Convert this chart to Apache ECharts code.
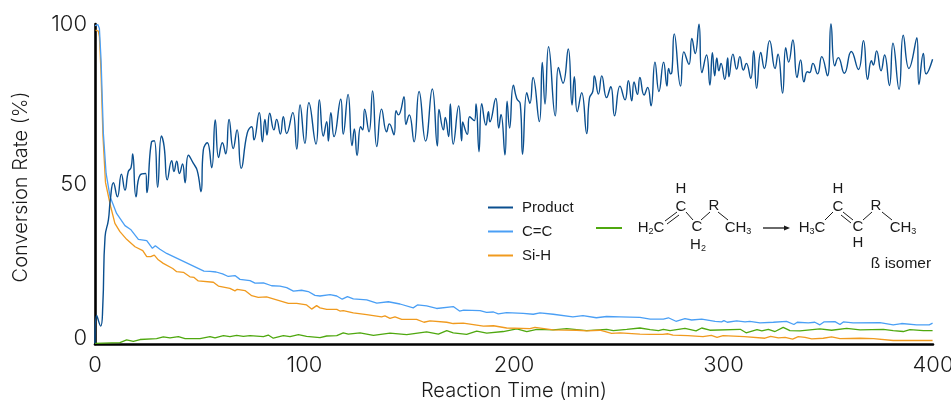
<!DOCTYPE html>
<html><head><meta charset="utf-8">
<style>html,body{margin:0;padding:0;background:#fff}#c{width:951px;height:401px}</style>
<script src="https://cdn.jsdelivr.net/npm/echarts@6/dist/echarts.min.js"></script>
</head><body><div id="c"></div>
<script>
const xTicks = [0,100,200,300,400];
const yTicks = [0,50,100];
const product = [[0,0.2],[0.8,8.9],[2.7,5.6],[3.7,11.7],[4.8,33.5],[6.4,38.8],[7.3,45],[8.8,50.4],[10.7,46],[12.6,53.1],[14.3,48.1],[15.9,53.9],[17.2,55.1],[18,59.4],[19.6,46],[21.5,52.8],[24.2,53.3],[24.8,47.3],[27,63.2],[28.3,63.5],[29.9,49],[31.7,65],[33,61.7],[34.5,51.3],[36.6,57.3],[37.7,53.9],[39,57.1],[40.3,53.3],[41.8,56.3],[43,50.4],[44.6,59],[46.9,56.5],[48.8,54.2],[50.6,47.6],[51.7,60.6],[53.6,62.9],[55.7,55.1],[57.4,70],[59,58.3],[60.8,62.9],[62.4,59.4],[64,70.2],[66,61.1],[67.8,66.9],[69.8,54.9],[72.7,66],[74.8,67.9],[75.9,63.8],[78.4,72.3],[79.9,63.2],[81.1,70.2],[82.1,65.3],[83.4,72.1],[85.4,66.9],[86.7,70.2],[88.5,65.6],[89.9,71],[91.5,65.8],[94.4,72.3],[96.3,60.9],[97.9,74.7],[100.2,62.7],[102.1,75.4],[105.5,62.5],[107.1,76.3],[109,65],[110.6,69.5],[111.4,63.4],[112.6,72.3],[114.1,64.8],[117.3,76.5],[118.5,65.6],[120.8,78],[122.7,62],[123.8,67.2],[125.1,58.9],[126.8,67.9],[127.8,66.9],[128.7,73.4],[130.8,66.3],[132.5,79.1],[134.5,61.7],[136.8,73.4],[139.2,66.3],[140.5,68.8],[142.7,65.4],[143.7,72.9],[144.8,71.6],[147.5,77.3],[148.4,68.6],[150,71.6],[152.3,63.2],[154.7,78.9],[157.8,63.4],[161,79.7],[163.4,61.9],[164.2,73.3],[166.3,66.9],[167.2,70.8],[168.8,64.8],[169.6,75],[171,62.5],[173.6,74.4],[175,63.5],[175.5,69.4],[177.7,65.5],[178.8,71],[181.1,69.8],[181.9,75],[183.3,60.1],[184.6,75.1],[186.6,68.4],[187.8,72.6],[188.5,69.4],[191.3,76.7],[192.7,67.5],[193.8,71.7],[195.7,59.1],[196.7,75.9],[197.9,67.5],[199.7,80.9],[201.3,76.7],[203,75],[204.1,59.3],[206.1,78.5],[207.6,75.2],[209.1,83.3],[212.1,69.5],[213.5,88],[214.8,75],[216.5,92.9],[219.7,71.3],[221.2,86.4],[223.4,81.5],[225.9,92.2],[227.7,74.7],[228.8,83.5],[230.2,72.6],[232.3,78.5],[234.7,65.8],[236,76.8],[237.6,78.9],[238.4,83.8],[240.3,78.1],[241.9,83.8],[244.2,77],[246.2,80.4],[248,71.3],[250.6,80.6],[253,76.3],[254.6,82.3],[256.2,76],[257.3,81.9],[258.9,78],[260.1,83.3],[262.1,77.8],[263.8,80.2],[265.4,74.4],[267.3,88.1],[269.2,78.9],[271.4,88.1],[273,80.6],[273.8,86.1],[274.8,84.4],[275.4,85.1],[276.5,96.9],[279.5,80.6],[281.1,91.3],[283.5,87.4],[284.9,95.5],[286.5,90.8],[288.3,99.9],[289.7,84.8],[291.9,90.3],[293.5,80.9],[294.7,91],[295.8,83.8],[296.8,89.4],[297.8,85.4],[298.8,87.7],[300.6,82.7],[302,89.4],[302.6,83.5],[304.5,90.6],[306.3,85.9],[307.8,89.8],[309.5,85.6],[310.9,87.7],[313,83],[314.4,91.6],[315.8,79.9],[317.8,91.1],[319.5,86.1],[322,94.8],[324.6,86.1],[326,90.6],[328.2,78.4],[329.7,92.6],[331.1,88.1],[333.1,95],[335.1,83.3],[336.8,88.8],[338.4,81.9],[340,85.1],[341.1,84.8],[342.7,87.7],[344.9,84.4],[346.9,89.8],[349.6,83.8],[351.3,100],[353.1,86.9],[354.8,89.5],[357.7,84.6],[361,91.4],[364.4,85.8],[366.8,94.8],[368.8,82.7],[370.6,88.5],[371.5,87.2],[373.1,91.6],[375.2,85.4],[376.9,90.3],[379.2,80.8],[380.9,94],[383.8,79.6],[385.8,96.5],[388.5,86.1],[392.3,95.7],[393.3,81.1],[395.4,90.8],[396.7,84.4],[399.8,89]];
const ccBond = [[0,99.5],[0.8,100],[1.4,99.8],[2.1,98.6],[2.9,88.7],[4,65.8],[5.3,53.3],[7.2,46],[8.1,44.5],[10.3,40.8],[14.3,37],[17,35.8],[20.7,32.7],[24.7,32.3],[27.4,29.9],[28.8,30.7],[31,29.6],[34.2,28.3],[52,22.8],[54.9,22.7],[57.8,22.5],[60.9,21.9],[63.6,21.1],[66.8,21.4],[69.2,20.2],[74,19.8],[76.4,19],[80.4,19.1],[84.3,18.2],[88.3,18.1],[91.5,17.6],[94.7,16.5],[98.6,16.8],[101.8,16.4],[105,15.2],[107.4,15],[112.2,15.4],[115.4,15],[118,14],[120.5,14.8],[123.3,14.1],[129.7,13.8],[134.5,12.8],[140,13.2],[145.6,12.5],[151.9,11.3],[153.9,12.2],[158.3,11.9],[163.1,11.1],[171,11.7],[174,10.3],[176,10.6],[183.8,10.4],[186.9,9.9],[190.2,10],[192.5,9.4],[196.5,9.8],[204.4,9.6],[209.2,9.3],[212.4,9.7],[218.7,9.3],[228.1,8.5],[232.9,8.9],[239.3,8.2],[244.2,8.6],[250.6,8.5],[260.1,8.3],[265,7.8],[271.3,7.8],[273.7,8.2],[277.3,7.1],[281.6,7.9],[284.8,7.5],[289.6,7.8],[296,7.1],[299.1,6.9],[300.2,7.3],[301.8,6.8],[306.3,7.2],[310.3,6.9],[312.6,7.1],[317.4,6.6],[323.8,6.8],[330.1,7.1],[333.6,6.1],[335.2,6.8],[340.5,6.6],[343.6,6.8],[346,6],[347.9,6.9],[353.2,7],[355.6,6.1],[357.2,6.9],[361.9,6.6],[374.7,6.7],[381,6],[385,6.4],[392.2,6],[398.2,6],[399.8,6.5]];
const siH = [[0.3,98.1],[1.6,97.8],[2.1,96],[2.8,86],[3.8,65],[5,50.5],[6.8,45],[7.5,42.9],[9.5,37.7],[11.9,35.1],[15.1,32.7],[19.1,30.4],[22.8,29.2],[24.7,27.3],[26.6,27.3],[28.3,27.8],[30.2,26.3],[32.6,25.2],[37.1,23.6],[39,22.6],[42.2,22.4],[45.3,21],[47.3,20.8],[49.3,19.7],[56.5,19.3],[58.9,18.1],[64.4,17.4],[66.8,16.6],[67.9,17.1],[71.6,16.7],[74.8,15.1],[77.9,14.6],[81.9,14.7],[92.3,12.7],[96.3,12.7],[101,12.2],[103.4,10.9],[105.8,12],[107.4,11.3],[110.6,10.8],[115.4,10.8],[116.9,10.3],[118.5,10.4],[123.3,9.7],[129.7,9.2],[136.8,8.5],[138.4,8.8],[140.8,8],[143.2,8.5],[146.4,7.7],[153.5,7.7],[157,6.8],[159.9,7.2],[167.9,6.8],[171,6.4],[175.8,6.5],[185.4,5.6],[190.2,5.7],[196.5,5],[207.6,4.8],[210,5.2],[218.7,4.4],[229.9,4.3],[234.7,4.1],[241,4.3],[246.6,3.3],[250.6,3.5],[260.1,3.1],[265,3],[271,3],[273.5,3.2],[275.9,2.8],[283,2.6],[290.2,2.3],[294.2,2.7],[296.9,2.1],[299.8,2.6],[310,2.3],[319.8,1.8],[322.5,2.4],[326.2,1.9],[329.4,2.1],[333,1.5],[335.7,2.3],[338.9,2.1],[342.1,1.6],[347.6,1.8],[351.6,2.2],[355.6,1.7],[365.2,1.8],[371.6,1.7],[381,1.1],[399.8,1.1]];
const betaIsomer = [[0,0.2],[11.9,0.4],[15.1,1.3],[18.3,0.8],[21.5,1.4],[29.4,1.7],[32.6,2.2],[35.8,1.9],[39.8,2.3],[43,1.7],[50.1,1.7],[54.9,2.3],[57.3,1.9],[61.3,2.6],[64.4,2.3],[67.6,2.7],[70.8,2.4],[74,2.6],[80.4,2.3],[82.7,2.8],[85.1,1.8],[89.9,2.6],[93.1,2.3],[97.1,2.9],[101,2.4],[107.4,2],[110.6,2.5],[115.4,2.6],[118.5,3.5],[120.9,3.1],[126.5,3.5],[132.9,2.7],[140.8,3.4],[148.8,2.9],[158.3,3.8],[163.9,3.1],[167.9,4.2],[171,3.5],[177.4,3],[182.2,4],[187,3.4],[194.9,3.9],[201.3,4.7],[206.1,3.9],[210.9,4.6],[218.7,4.4],[225.2,4.8],[234.7,4.2],[244.2,4.6],[247.4,4.2],[253.8,4.6],[260.1,5],[265,4.5],[269,4.2],[271.3,4.6],[274.5,4.2],[281.6,4.9],[286.9,4.1],[289.6,5],[293.5,4.3],[308,4.6],[310.8,3.5],[316,4.5],[318.3,4.1],[321.4,4.6],[324.6,3.9],[328.5,5.2],[331.7,4.2],[336.5,4.1],[346,4.7],[351.6,4.3],[358.8,4.9],[365.2,4.4],[376.3,4.6],[381,4.2],[385.8,3.9],[389,4.5],[395.4,4.2],[399.8,4.2]];

const FONT = 'Inter';
const SANS = 'Liberation Sans';
const INK = '#1a1a1a';
const chart = echarts.init(document.getElementById('c'), null, {renderer:'canvas'});

function txt(x,y,rich){
  return {type:'text',x:x,y:y,silent:true,style:{
    rich:{a:{fontFamily:SANS,fontSize:15,fill:INK,color:INK},
          s:{fontFamily:SANS,fontSize:9,fill:INK,color:INK,verticalAlign:'bottom',padding:[8,0,0,0]}},
    text:rich,align:'center',verticalAlign:'middle'}};
}
function bond(x1,y1,x2,y2,w){
  return {type:'line',silent:true,shape:{x1:x1,y1:y1,x2:x2,y2:y2},style:{stroke:INK,lineWidth:w||1}};
}
const structure = [
  txt(681,189,'{a|H}'),txt(681,207,'{a|C}'),txt(697,227,'{a|C}'),txt(698,245,'{a|H}{s|2}'),
  txt(714,206,'{a|R}'),txt(738,228,'{a|CH}{s|3}'),txt(651,228,'{a|H}{s|2}{a|C}'),
  bond(665,221,677,212),bond(667,224,679,215),bond(686,212,693,220),bond(701,220,710,212),bond(718,212,728,220),
  bond(763,228,786,228,1.3),
  {type:'polygon',silent:true,shape:{points:[[790,228],[784,225.5],[784,230.5]]},style:{fill:INK}},
  txt(812,228,'{a|H}{s|3}{a|C}'),txt(838,189,'{a|H}'),txt(838,207,'{a|C}'),txt(858,227,'{a|C}'),txt(858,243,'{a|H}'),
  txt(876,206,'{a|R}'),txt(903,228,'{a|CH}{s|3}'),
  bond(825,220,833,212),bond(843,212,853,220),bond(841,215,851,223),bond(863,220,872,212),bond(882,212,892,220),
  {type:'text',x:901,y:264,silent:true,style:{text:'ß isomer',fontFamily:SANS,fontSize:15.5,fill:INK,align:'center',verticalAlign:'middle'}}
];

const mk = (name,data,color,w,smooth,z)=>({type:'line',name,data,smooth,showSymbol:false,symbol:'none',clip:false,z,
  lineStyle:{color,width:w},itemStyle:{color}});
chart.setOption({
  animation:false,
  backgroundColor:'#fff',
  grid:{left:95,right:18,top:24,height:320,containLabel:false,outerBoundsMode:'none'},
  textStyle:{fontFamily:FONT},
  legend:[
    {left:488,top:200,padding:0,orient:'vertical',itemWidth:25,itemHeight:2,itemGap:9,icon:'rect',data:['Product','C=C','Si-H'],
     textStyle:{fontFamily:SANS,fontSize:15,color:INK,padding:[0,0,0,4]},selectedMode:false},
    {left:596,top:227,padding:0,itemWidth:26,itemHeight:2,icon:'rect',data:['β isomer'],formatter:()=>'',selectedMode:false}
  ],
  xAxis:{type:'value',min:0,max:400,interval:100,splitLine:{show:false},axisTick:{show:false},
    axisLine:{lineStyle:{color:'#000',width:2.6}},
    axisLabel:{fontFamily:FONT,fontWeight:300,fontSize:22,color:INK,margin:10,customValues:xTicks},
    name:'Reaction Time (min)',nameLocation:'middle',nameGap:34,nameTextStyle:{fontFamily:FONT,fontWeight:300,fontSize:20,color:INK}},
  yAxis:{type:'value',min:0,max:100,interval:50,splitLine:{show:false},axisTick:{show:false},
    axisLine:{show:true,lineStyle:{color:'#000',width:2.6}},
    axisLabel:{fontFamily:FONT,fontWeight:300,fontSize:22,color:INK,margin:8,customValues:yTicks,verticalAlignMinLabel:'bottom',lineHeight:12},
    name:'Conversion Rate (%)',nameLocation:'middle',nameGap:64,nameTextStyle:{fontFamily:FONT,fontWeight:300,fontSize:20,color:INK,padding:[0,6,0,0]}},
  series:[
    mk('β isomer',betaIsomer,'#4fa80f',1.3,false,2),
    mk('Si-H',siH,'#f09a1e',1.3,false,3),
    mk('C=C',ccBond,'#4a9ff5',1.3,false,4),
    mk('Product',product,'#0a4f8f',1.4,0.5,5)
  ],
  graphic:structure
});
</script></body></html>
